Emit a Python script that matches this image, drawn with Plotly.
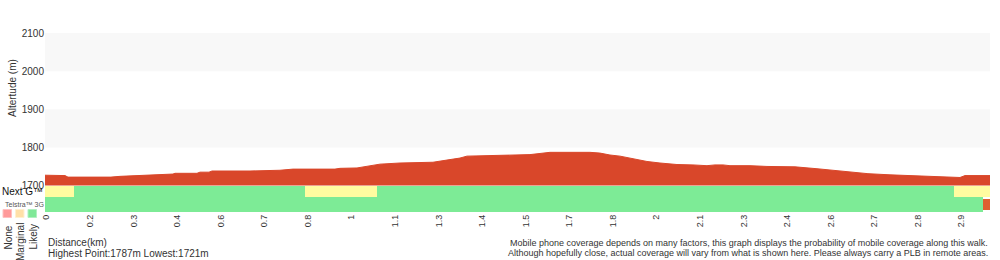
import plotly.graph_objects as go

# ---------------- data ----------------
tick_labels = ["0", "0.2", "0.3", "0.4", "0.6", "0.7", "0.8", "1", "1.1", "1.3", "1.4",
               "1.5", "1.7", "1.8", "2", "2.1", "2.3", "2.4", "2.6", "2.7", "2.8", "2.9"]
tick_pos = list(range(len(tick_labels)))

alt_ticks = [1700, 1800, 1900, 2000, 2100]

# elevation profile (x in tick-index units, altitude in m)
prof_x = [-0.034, 0.425, 0.493, 1.480, 1.687, 1.985, 2.375, 2.903, 2.949, 3.454, 3.523,
          3.730, 3.799, 4.671, 5.359, 5.589, 5.658, 6.622, 6.737, 7.127, 7.425, 7.655,
          8.114, 8.871, 9.261, 9.491, 9.651, 10.478, 10.638, 11.097, 11.327, 11.556,
          11.786, 12.474, 12.704, 12.933, 13.163, 13.461, 13.783, 14.081, 14.471, 14.839,
          15.160, 15.344, 15.527, 15.688, 16.147, 16.537, 17.180, 17.685, 18.144, 18.603,
          18.855, 19.360, 19.980, 20.508, 20.967, 21.082, 21.656]
prof_alt = [1727, 1726, 1722, 1722, 1724, 1725, 1727, 1730, 1732, 1732, 1735,
            1735, 1738, 1738, 1740, 1741, 1743, 1743, 1745, 1746, 1751, 1756,
            1759, 1761, 1768, 1772, 1777, 1780, 1781, 1781, 1784, 1787,
            1787, 1787, 1785, 1780, 1777, 1770, 1763, 1759, 1755, 1754,
            1752, 1754, 1754, 1752, 1752, 1750, 1749, 1744, 1739, 1734,
            1731, 1728, 1725, 1722, 1721, 1726, 1726]

# coverage segments
nextg_start = [-0.034, 0.631, 5.933, 7.585, 20.829]
nextg_end = [0.631, 5.933, 7.585, 20.829, 21.656]
nextg_level = ["Marginal", "Likely", "Marginal", "Likely", "Marginal"]

g3_start = [-0.034, 21.494]
g3_end = [21.494, 21.656]
g3_level = ["Likely", "None"]

legend_levels = ["None", "Marginal", "Likely"]

# ---------------- styling ----------------
W, H = 1000, 260
ML, MR = 45, 10
FONT = "Liberation Sans, Arial, Helvetica, sans-serif"
TXT = "#333333"
band_colors = {"None": "#e0602f", "Marginal": "#fffca0", "Likely": "#7deb96"}
legend_colors = {"None": "#ff9a9a", "Marginal": "#ffe0a8", "Likely": "#80e898"}
legend_edges = {"None": "#ffc0c0", "Marginal": "#fff0d0", "Likely": "#b0f0c0"}
RED = "#d9472a"


def px2x(px):
    return (px - ML) / (W - ML - MR)


def py2y(py):
    return (H - py) / H


fig = go.Figure()

# elevation area
fig.add_trace(go.Scatter(x=prof_x, y=prof_alt, mode="lines", fill="tozeroy",
                         fillcolor=RED, line=dict(color=RED, width=1),
                         xaxis="x", yaxis="y", hoverinfo="skip", showlegend=False))

# coverage bars (yaxis2 units ~ pixels of band height)
rows = [("nextg", nextg_start, nextg_end, nextg_level, 20.75, 11.5),
        ("g3", g3_start, g3_end, g3_level, 7.5, 15.0)]
for name, s, e, lv, yc, wd in rows:
    for a, b, l in zip(s, e, lv):
        w = wd if l != "None" else 11.0
        fig.add_trace(go.Bar(orientation="h", base=[a], x=[b - a], y=[yc], width=[w],
                             marker=dict(color=band_colors[l], line=dict(width=0)),
                             xaxis="x", yaxis="y2", hoverinfo="skip", showlegend=False))

shapes = []
# alternating background bands
for lo, hi in zip(alt_ticks[1::2], alt_ticks[2::2]):
    shapes.append(dict(type="rect", xref="paper", yref="y", x0=0, x1=1, y0=lo, y1=hi,
                       fillcolor="#f8f8f8", line=dict(width=0), layer="below"))

# legend squares
for i, lv in enumerate(legend_levels):
    x0 = 3 + i * 12.5
    shapes.append(dict(type="rect", xref="paper", yref="paper",
                       x0=px2x(x0), x1=px2x(x0 + 8.5), y0=py2y(217.5), y1=py2y(209.5),
                       fillcolor=legend_colors[lv], line=dict(color=legend_edges[lv], width=1)))

annotations = [
    dict(text="Altertude (m)", x=px2x(12), y=py2y(88), xref="paper", yref="paper",
         textangle=-90, showarrow=False, font=dict(size=10, color=TXT, family=FONT),
         xanchor="center", yanchor="middle"),
    dict(text="Next G™", x=px2x(0), y=py2y(191), xref="paper", yref="paper",
         showarrow=False, font=dict(size=10, color="#111111", family=FONT),
         xanchor="left", yanchor="middle"),
    dict(text="Telstra™ 3G", x=px2x(3), y=py2y(204), xref="paper", yref="paper",
         showarrow=False, font=dict(size=7, color="#555555", family=FONT),
         xanchor="left", yanchor="middle"),
    dict(text="Distance(km)", x=px2x(46), y=py2y(242.5), xref="paper", yref="paper",
         showarrow=False, font=dict(size=10, color=TXT, family=FONT),
         xanchor="left", yanchor="middle"),
    dict(text="Highest Point:%dm Lowest:%dm" % (max(prof_alt), min(prof_alt)),
         x=px2x(46), y=py2y(253), xref="paper", yref="paper",
         showarrow=False, font=dict(size=10, color=TXT, family=FONT),
         xanchor="left", yanchor="middle"),
    dict(text="Mobile phone coverage depends on many factors, this graph displays the probability of mobile coverage along this walk.",
         x=px2x(990), y=py2y(242.5), xref="paper", yref="paper",
         showarrow=False, font=dict(size=9, color=TXT, family=FONT),
         xanchor="right", yanchor="middle"),
    dict(text="Although hopefully close, actual coverage will vary from what is shown here. Please always carry a PLB in remote areas.",
         x=px2x(990), y=py2y(253), xref="paper", yref="paper",
         showarrow=False, font=dict(size=9, color=TXT, family=FONT),
         xanchor="right", yanchor="middle"),
]
legend_centers = [238, 242, 237]
for i, lv in enumerate(legend_levels):
    annotations.append(dict(text=lv, x=px2x(7.5 + i * 12.5), y=py2y(legend_centers[i]),
                            xref="paper", yref="paper", textangle=-90, showarrow=False,
                            font=dict(size=10, color=TXT, family=FONT),
                            xanchor="center", yanchor="middle"))

fig.update_layout(
    width=W, height=H,
    margin=dict(l=ML, r=MR, t=0, b=0, pad=0),
    paper_bgcolor="white", plot_bgcolor="rgba(0,0,0,0)",
    template="none",
    barmode="overlay", bargap=0,
    showlegend=False,
    font=dict(family=FONT, color=TXT),
    xaxis=dict(domain=[0, 1], range=[-0.034, 21.656], anchor="y2",
               tickvals=tick_pos, ticktext=tick_labels, tickangle=-90,
               tickfont=dict(size=9, color=TXT, family=FONT),
               showgrid=False, zeroline=False, showline=False, ticks="",
               automargin=False),
    yaxis=dict(domain=[py2y(185.5), py2y(33)], range=[1700, 2100], anchor="x",
               tickvals=alt_ticks, tickfont=dict(size=10, color=TXT, family=FONT),
               showgrid=False, zeroline=False, showline=False, ticks="",
               automargin=False),
    yaxis2=dict(domain=[py2y(212), py2y(185)], range=[0, 27], anchor="x",
                visible=False, fixedrange=True),
    shapes=shapes,
    annotations=annotations,
)

fig.write_html("out.html")
